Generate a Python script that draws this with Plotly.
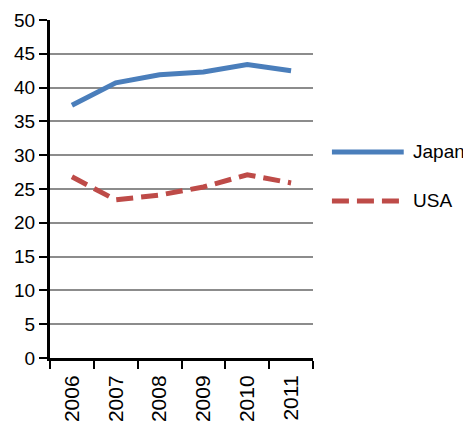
import plotly.graph_objects as go

years = ["2006", "2007", "2008", "2009", "2010", "2011"]
japan = [37.4, 40.7, 41.9, 42.3, 43.4, 42.5]
usa = [26.8, 23.4, 24.1, 25.3, 27.1, 25.9]
y_ticks = [0, 5, 10, 15, 20, 25, 30, 35, 40, 45, 50]

BLUE = "#4a7ebb"
RED = "#be4b48"
FAMILY = "Liberation Sans, Arial, Helvetica, sans-serif"
FONT = dict(family=FAMILY, size=19, color="black")
XFONT = dict(family=FAMILY, size=21, color="black")
USA_DASH = "17px,8px"

fig = go.Figure()
fig.add_trace(go.Scatter(x=years, y=japan, name="Japan", mode="lines",
                         line=dict(color=BLUE, width=5)))
fig.add_trace(go.Scatter(x=years, y=usa, name="USA", mode="lines",
                         line=dict(color=RED, width=5, dash=USA_DASH)))

# legend drawn to the right of the plot area
legend_items = [("Japan", BLUE, "solid", 0.6095), ("USA", RED, USA_DASH, 0.4645)]
for label, color, dash, ypos in legend_items:
    fig.add_shape(type="line", xref="paper", yref="paper",
                  x0=1.072, x1=1.345, y0=ypos, y1=ypos,
                  line=dict(color=color, width=5, dash=dash))
    fig.add_annotation(xref="paper", yref="paper", x=1.372, y=ypos, text=label,
                       showarrow=False, xanchor="left", yanchor="middle", font=FONT)

fig.update_layout(
    width=463, height=424,
    margin=dict(l=50, r=150, t=20, b=66, autoexpand=False),
    paper_bgcolor="white", plot_bgcolor="white",
    showlegend=False,
    font=FONT,
)
fig.update_xaxes(
    type="category", range=[-0.5, 5.5], automargin=False,
    showline=True, linecolor="black", linewidth=3,
    ticks="outside", tickson="boundaries", ticklen=8, tickwidth=2, tickcolor="black",
    tickangle=-90, showgrid=False, tickfont=XFONT, ticklabelstandoff=6,
)
fig.update_yaxes(
    range=[0, 50], tickvals=y_ticks, automargin=False,
    showline=True, linecolor="black", linewidth=3,
    ticks="outside", ticklen=8, tickwidth=2, tickcolor="black",
    showgrid=True, gridcolor="#8c8c8c", gridwidth=2, zeroline=False,
    tickfont=FONT,
)

fig.write_html("out.html")
